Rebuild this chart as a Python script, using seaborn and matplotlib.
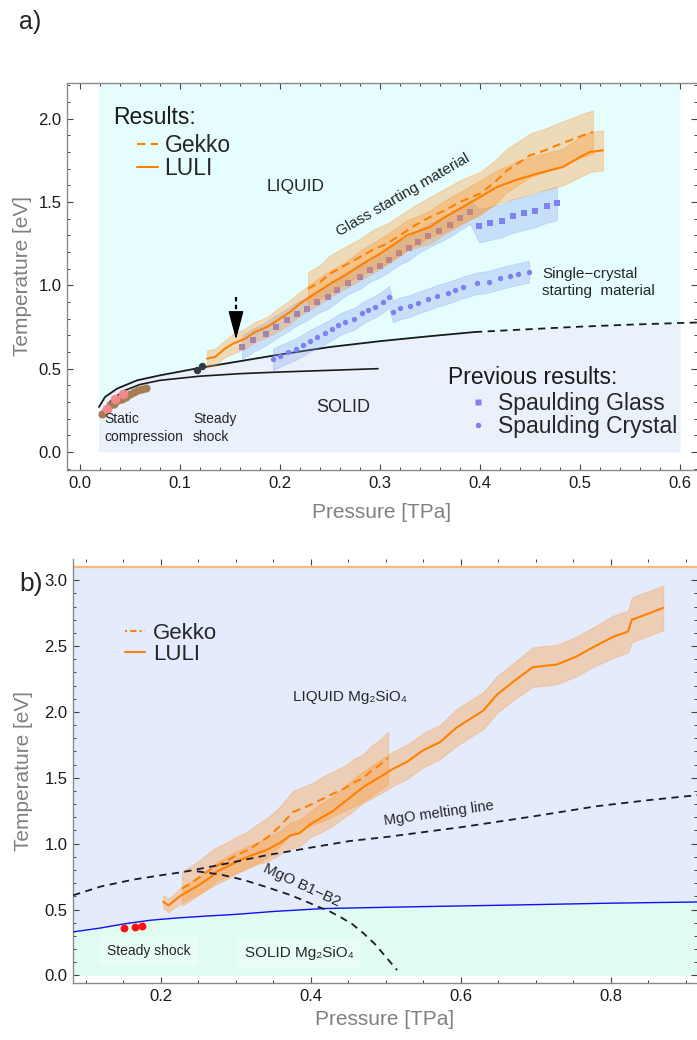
import matplotlib.pyplot as plt
import seaborn as sns
from matplotlib.lines import Line2D
from matplotlib.ticker import MultipleLocator, FormatStrFormatter


# %% data, panel a
liquid_a_p = [0.019, 0.6]

melt_p = [0.019, 0.025, 0.037, 0.057, 0.08, 0.12, 0.16, 0.2, 0.25, 0.3, 0.35, 0.395]
melt_t = [0.27, 0.33, 0.38, 0.43, 0.46, 0.505, 0.545, 0.585, 0.63, 0.665, 0.695, 0.72]
melt_ext_p = [0.395, 0.45, 0.5, 0.55, 0.6, 0.617]
melt_ext_t = [0.72, 0.737, 0.752, 0.764, 0.774, 0.777]

solidus_p = [0.028, 0.035, 0.045, 0.06, 0.08, 0.12, 0.16, 0.2, 0.25, 0.298]
solidus_t = [0.29, 0.33, 0.37, 0.405, 0.43, 0.455, 0.47, 0.48, 0.49, 0.50]

static_brown_p = [0.022, 0.026, 0.030, 0.034, 0.038, 0.042, 0.046, 0.050, 0.054, 0.058, 0.062, 0.066]
static_brown_t = [0.23, 0.25, 0.28, 0.29, 0.31, 0.32, 0.33, 0.35, 0.36, 0.37, 0.38, 0.385]
static_pink_p = [0.027, 0.035, 0.043]
static_pink_t = [0.26, 0.32, 0.35]

steady_a_p = [0.117, 0.122]
steady_a_t = [0.492, 0.516]

luli_a_p = [0.127, 0.135, 0.145, 0.153, 0.165, 0.175, 0.187, 0.2, 0.21, 0.22,
            0.235, 0.253, 0.265, 0.283, 0.3, 0.315, 0.327, 0.35, 0.365, 0.383,
            0.4, 0.417, 0.435, 0.457, 0.47, 0.483, 0.5, 0.51, 0.523]
luli_a_t = [0.56, 0.57, 0.62, 0.65, 0.68, 0.72, 0.75, 0.80, 0.84, 0.89,
            0.95, 1.02, 1.06, 1.13, 1.19, 1.25, 1.30, 1.35, 1.41, 1.47,
            1.53, 1.59, 1.63, 1.67, 1.69, 1.71, 1.77, 1.80, 1.81]
luli_a_err = [0.05, 0.05, 0.05, 0.06, 0.06, 0.06, 0.06, 0.07, 0.07, 0.07,
              0.08, 0.08, 0.08, 0.09, 0.09, 0.09, 0.09, 0.10, 0.10, 0.10,
              0.10, 0.10, 0.11, 0.11, 0.11, 0.11, 0.12, 0.12, 0.12]

gekko_a_p = [0.228, 0.24, 0.25, 0.265, 0.28, 0.295, 0.307, 0.32, 0.335, 0.35, 0.365,
             0.38, 0.4, 0.415, 0.427, 0.44, 0.45, 0.465, 0.477, 0.49, 0.503, 0.513]
gekko_a_t = [0.98, 1.02, 1.07, 1.12, 1.17, 1.22, 1.25, 1.30, 1.36, 1.41, 1.45,
             1.50, 1.55, 1.62, 1.69, 1.74, 1.78, 1.81, 1.84, 1.87, 1.90, 1.92]
gekko_a_err = [0.10, 0.10, 0.11, 0.11, 0.11, 0.12, 0.12, 0.12, 0.12, 0.12, 0.13,
               0.13, 0.13, 0.13, 0.13, 0.13, 0.13, 0.13, 0.13, 0.13, 0.13, 0.13]

glass_p = [0.162, 0.173, 0.186, 0.196, 0.207, 0.217, 0.227, 0.237, 0.248, 0.257,
           0.268, 0.280, 0.290, 0.300, 0.309, 0.319, 0.329, 0.338, 0.348, 0.359,
           0.370, 0.380, 0.390, 0.399, 0.410, 0.422, 0.433, 0.444, 0.455, 0.467, 0.477]
glass_t = [0.63, 0.67, 0.71, 0.75, 0.79, 0.83, 0.86, 0.90, 0.93, 0.97,
           1.016, 1.048, 1.092, 1.118, 1.152, 1.192, 1.222, 1.262, 1.296, 1.328,
           1.362, 1.402, 1.438, 1.358, 1.372, 1.388, 1.416, 1.432, 1.448, 1.476, 1.492]
glass_err = [0.07] * 23 + [0.10] * 8

crystal_p = [0.193, 0.2, 0.208, 0.216, 0.223, 0.23, 0.237, 0.245, 0.252, 0.258,
             0.265, 0.274, 0.282, 0.288, 0.295, 0.303, 0.309, 0.313, 0.32, 0.33,
             0.338, 0.348, 0.357, 0.368, 0.375, 0.383, 0.397, 0.409, 0.42, 0.43,
             0.438, 0.449]
crystal_t = [0.556, 0.576, 0.598, 0.618, 0.642, 0.668, 0.688, 0.712, 0.736, 0.76,
             0.78, 0.798, 0.832, 0.852, 0.872, 0.902, 0.932, 0.842, 0.862, 0.876,
             0.896, 0.916, 0.936, 0.956, 0.97, 0.988, 1.012, 1.022, 1.042, 1.056,
             1.068, 1.082]
crystal_err = [0.065] * 32

# %% data, panel b
blue_p = [0.083, 0.12, 0.15, 0.185, 0.22, 0.26, 0.3, 0.35, 0.416, 0.52, 0.65, 0.8, 0.915]
blue_t = [0.33, 0.36, 0.39, 0.418, 0.435, 0.45, 0.463, 0.485, 0.507, 0.519, 0.532, 0.548, 0.557]

mgo_melt_p = [0.083, 0.12, 0.163, 0.2, 0.23, 0.28, 0.341, 0.4, 0.452, 0.5, 0.603, 0.7, 0.781, 0.85, 0.915]
mgo_melt_t = [0.608, 0.675, 0.727, 0.76, 0.785, 0.84, 0.912, 0.97, 1.02, 1.05, 1.127, 1.21, 1.284, 1.33, 1.368]

b1b2_p = [0.248, 0.28, 0.31, 0.341, 0.37, 0.39, 0.408, 0.425, 0.44, 0.455, 0.47, 0.485, 0.5, 0.515]
b1b2_t = [0.79, 0.765, 0.725, 0.67, 0.615, 0.57, 0.525, 0.486, 0.44, 0.39, 0.32, 0.24, 0.14, 0.04]

steady_b_p = [0.151, 0.165, 0.175]
steady_b_t = [0.36, 0.367, 0.375]

luli_b_p = [0.203, 0.21, 0.225, 0.24, 0.252, 0.265, 0.275, 0.29, 0.3, 0.32,
            0.34, 0.36, 0.372, 0.385, 0.4, 0.415, 0.43, 0.45, 0.47, 0.496,
            0.51, 0.528, 0.55, 0.572, 0.594, 0.616, 0.63, 0.648, 0.67, 0.696,
            0.712, 0.728, 0.754, 0.776, 0.803, 0.823, 0.828, 0.852, 0.87]
luli_b_t = [0.56, 0.53, 0.60, 0.65, 0.69, 0.74, 0.79, 0.83, 0.86, 0.91,
            0.95, 1.01, 1.06, 1.08, 1.15, 1.20, 1.25, 1.34, 1.43, 1.52,
            1.57, 1.62, 1.71, 1.77, 1.88, 1.96, 2.01, 2.13, 2.23, 2.34,
            2.35, 2.36, 2.42, 2.49, 2.57, 2.61, 2.70, 2.75, 2.79]
luli_b_err = [0.05, 0.05, 0.06, 0.06, 0.07, 0.07, 0.07, 0.08, 0.08, 0.08,
              0.09, 0.09, 0.10, 0.10, 0.10, 0.11, 0.11, 0.12, 0.12, 0.13,
              0.13, 0.13, 0.13, 0.13, 0.14, 0.14, 0.14, 0.14, 0.14, 0.15,
              0.15, 0.15, 0.15, 0.15, 0.16, 0.16, 0.17, 0.17, 0.17]

gekko_b_p = [0.228, 0.24, 0.255, 0.27, 0.288, 0.3, 0.315, 0.332, 0.345, 0.36, 0.376,
             0.39, 0.405, 0.416, 0.43, 0.445, 0.456, 0.47, 0.48, 0.49, 0.503]
gekko_b_t = [0.66, 0.70, 0.76, 0.82, 0.87, 0.91, 0.95, 1.01, 1.06, 1.14, 1.24,
             1.27, 1.31, 1.34, 1.38, 1.42, 1.46, 1.50, 1.55, 1.59, 1.65]
gekko_b_err = [0.13, 0.13, 0.13, 0.14, 0.14, 0.14, 0.14, 0.15, 0.15, 0.15, 0.16,
               0.16, 0.16, 0.17, 0.17, 0.17, 0.18, 0.18, 0.19, 0.19, 0.20]

# %% style
sns.set_theme(style="ticks")
plt.rcParams["font.family"] = ["Liberation Sans", "DejaVu Sans"]

orange = "#FF8000"
band_face = "#FF8C1A"
band_edge = (1.0, 0.6, 0.2, 0.55)
spaul = "#8080F0"
gray = "#808080"
dash_long = (0, (4, 2.5))


def band(ax, p, t, err, z):
    lo = [a - e for a, e in zip(t, err)]
    hi = [a + e for a, e in zip(t, err)]
    ax.fill_between(p, lo, hi, facecolor=band_face, alpha=0.3,
                    edgecolor=band_edge, linewidth=0.8, zorder=z)


def style_axes(ax, xmaj, xmin, ymaj, ymin):
    ax.xaxis.set_major_locator(MultipleLocator(xmaj))
    ax.xaxis.set_minor_locator(MultipleLocator(xmin))
    ax.yaxis.set_major_locator(MultipleLocator(ymaj))
    ax.yaxis.set_minor_locator(MultipleLocator(ymin))
    ax.xaxis.set_major_formatter(FormatStrFormatter("%.1f"))
    ax.yaxis.set_major_formatter(FormatStrFormatter("%.1f"))
    ax.tick_params(which="both", direction="in", top=True, right=True,
                   color="#444444", labelsize=12, labelcolor="#1a1a1a", pad=4)
    ax.tick_params(which="major", length=4.5, width=0.8)
    ax.tick_params(which="minor", length=2.5, width=0.7)
    for s in ["left", "bottom", "top"]:
        ax.spines[s].set_color("#8a8a8a")
        ax.spines[s].set_linewidth(1.0)
    ax.spines["right"].set_visible(False)
    ax.set_facecolor("white")


W, H = 697, 1040
fig = plt.figure(figsize=(6.97, 10.4), dpi=100)
ax_a = fig.add_axes([67 / W, 1 - 470 / H, 630 / W, 387 / H])
ax_b = fig.add_axes([73 / W, 1 - 983 / H, 624 / W, 424 / H])

# %% panel a
ax_a.fill_between(liquid_a_p, 0, 2.3, color="#E6FDFE", lw=0, zorder=0)
fill_p = melt_p + melt_ext_p[1:5]
fill_t = melt_t + melt_ext_t[1:5]
ax_a.fill_between(fill_p, 0, fill_t, color="#EBF1FA", lw=0, zorder=0.5)

sns.lineplot(x=melt_p, y=melt_t, color="#1a1a1a", lw=1.3, ax=ax_a, errorbar=None, zorder=2)
sns.lineplot(x=melt_ext_p, y=melt_ext_t, color="#1a1a1a", lw=1.3, linestyle=(0, (4, 3)),
             ax=ax_a, errorbar=None, zorder=2)
sns.lineplot(x=solidus_p, y=solidus_t, color="#1a1a1a", lw=1.2, ax=ax_a, errorbar=None, zorder=2)

sns.scatterplot(x=static_brown_p, y=static_brown_t, color="#A67C52", s=34, linewidth=0,
                ax=ax_a, zorder=3)
sns.scatterplot(x=static_pink_p, y=static_pink_t, color="#F08A8A", s=48, linewidth=0,
                ax=ax_a, zorder=3.1)
sns.scatterplot(x=steady_a_p, y=steady_a_t, color="#2E3B3B", s=28, linewidth=0,
                ax=ax_a, zorder=3)

# Spaulding previous results
for p, t, err in [(glass_p, glass_t, glass_err), (crystal_p, crystal_t, crystal_err)]:
    ax_a.fill_between(p, [a - e for a, e in zip(t, err)], [a + e for a, e in zip(t, err)],
                      facecolor="#7F9FF0", alpha=0.3, edgecolor=(0.5, 0.6, 0.95, 0.3),
                      linewidth=0.6, zorder=3)
sns.scatterplot(x=glass_p, y=glass_t, marker="s", s=17, color=spaul, linewidth=0,
                ax=ax_a, zorder=4)
sns.scatterplot(x=crystal_p, y=crystal_t, marker="o", s=15, color=spaul, linewidth=0,
                ax=ax_a, zorder=4)

# present results
band(ax_a, gekko_a_p, gekko_a_t, gekko_a_err, 5)
band(ax_a, luli_a_p, luli_a_t, luli_a_err, 5)
sns.lineplot(x=gekko_a_p, y=gekko_a_t, color=orange, lw=1.5, linestyle=dash_long,
             ax=ax_a, errorbar=None, zorder=6)
sns.lineplot(x=luli_a_p, y=luli_a_t, color=orange, lw=1.5, ax=ax_a, errorbar=None, zorder=6)

# arrow
ax_a.plot([0.156, 0.156], [0.93, 0.79], color="black", lw=1.6, ls=(0, (2, 1.5)), zorder=7)
ax_a.annotate("", xy=(0.156, 0.675), xytext=(0.156, 0.81),
              arrowprops=dict(arrowstyle="-|>,head_length=0.9,head_width=0.24",
                              mutation_scale=20, color="black", lw=1.0,
                              shrinkA=0, shrinkB=0), zorder=7)

ax_a.set_xlim(-0.013, 0.617)
ax_a.set_ylim(-0.108, 2.214)
style_axes(ax_a, 0.1, 0.02, 0.5, 0.1)

ax_a.text(0.073, 0.9096, "Results:", transform=ax_a.transAxes, fontsize=16.5,
          ha="left", va="center", color="#1a1a1a")
leg_a = ax_a.legend(
    handles=[Line2D([], [], color=orange, lw=1.5, ls=dash_long),
             Line2D([], [], color=orange, lw=1.5)],
    labels=["Gekko", "LULI"], loc="upper left", bbox_to_anchor=(0.111, 0.868),
    frameon=False, fontsize=16.5, handlelength=0.9, handletextpad=0.3,
    labelspacing=0.0, borderpad=0, borderaxespad=0)
ax_a.add_artist(leg_a)

ax_a.text(0.605, 0.238, "Previous results:", transform=ax_a.transAxes, fontsize=16.5,
          ha="left", va="center", color="#1a1a1a")
ax_a.legend(
    handles=[Line2D([], [], ls="none", marker="s", ms=4.5, color=spaul, mec="none"),
             Line2D([], [], ls="none", marker="o", ms=4.0, color=spaul, mec="none")],
    labels=["Spaulding Glass", "Spaulding Crystal"], loc="upper left",
    bbox_to_anchor=(0.638, 0.2016), frameon=False, fontsize=16.5, handlelength=0.8,
    handletextpad=0.45, labelspacing=0.0, borderpad=0, borderaxespad=0)

ax_a.text(0.187, 1.59, "LIQUID", fontsize=12.5, ha="left", va="center", zorder=8)
ax_a.text(0.236, 0.27, "SOLID", fontsize=13, ha="left", va="center", zorder=8)
ax_a.text(0.323, 1.54, "Glass starting material", fontsize=11, rotation=30,
          rotation_mode="anchor", ha="center", va="center", zorder=8)
ax_a.text(0.462, 1.017, "Single\u2212crystal\nstarting  material", fontsize=11,
          ha="left", va="center", linespacing=1.35, zorder=8)
ax_a.text(0.024, 0.144, "Static\ncompression", fontsize=10, ha="left", va="center",
          linespacing=1.45, zorder=8)
ax_a.text(0.113, 0.144, "Steady\nshock", fontsize=10, ha="left", va="center",
          linespacing=1.45, zorder=8)

ax_a.set_xlabel("Pressure [TPa]", fontsize=15, color=gray)
ax_a.set_ylabel("Temperature [eV]", fontsize=15, color=gray)
ax_a.xaxis.set_label_coords(0.5, -0.085)
ax_a.yaxis.set_label_coords(-0.056, 0.5)

# %% panel b
ax_b.fill_between([0.0, 1.0], 0, 3.1, color="#E4EBFC", lw=0, zorder=0)
ax_b.fill_between(blue_p, 0, blue_t, color="#E0FCF0", lw=0, zorder=0.5)
ax_b.axhline(3.1, color="#F3BE73", lw=1.6, zorder=1)

band(ax_b, gekko_b_p, gekko_b_t, gekko_b_err, 3)
band(ax_b, luli_b_p, luli_b_t, luli_b_err, 3)
sns.lineplot(x=gekko_b_p, y=gekko_b_t, color=orange, lw=1.5, linestyle=dash_long,
             ax=ax_b, errorbar=None, zorder=4)
sns.lineplot(x=luli_b_p, y=luli_b_t, color=orange, lw=1.5, ax=ax_b, errorbar=None, zorder=4)

sns.lineplot(x=blue_p, y=blue_t, color="#1010F0", lw=1.0, ax=ax_b, errorbar=None, zorder=5)
sns.lineplot(x=mgo_melt_p, y=mgo_melt_t, color="#1a1a2a", lw=1.3, linestyle=(0, (4, 3)),
             ax=ax_b, errorbar=None, zorder=5)
sns.lineplot(x=b1b2_p, y=b1b2_t, color="#1a1a2a", lw=1.3, linestyle=(0, (4, 3)),
             ax=ax_b, errorbar=None, zorder=5)
sns.scatterplot(x=steady_b_p, y=steady_b_t, color="#FF1010", s=32, linewidth=0,
                ax=ax_b, zorder=6)

ax_b.set_xlim(0.0827, 0.915)
ax_b.set_ylim(-0.058, 3.161)
style_axes(ax_b, 0.2, 0.05, 0.5, 0.1)
ax_b.spines["top"].set_visible(False)

ax_b.legend(
    handles=[Line2D([], [], color=orange, lw=1.5, ls=(0, (1, 1.5, 3, 1.5))),
             Line2D([], [], color=orange, lw=1.5)],
    labels=["Gekko", "LULI"], loc="upper left", bbox_to_anchor=(0.0833, 0.85),
    frameon=False, fontsize=16, handlelength=0.9, handletextpad=0.35,
    labelspacing=0.0, borderpad=0, borderaxespad=0)

ax_b.text(0.376, 2.11, "LIQUID Mg\u2082SiO\u2084", fontsize=11, ha="left", va="center", zorder=8)
ax_b.text(0.571, 1.23, "MgO melting line", fontsize=10.5, rotation=8, rotation_mode="anchor",
          ha="center", va="center", zorder=8)
ax_b.text(0.388, 0.684, "MgO B1\u2212B2", fontsize=11, rotation=-25, rotation_mode="anchor",
          ha="center", va="center", zorder=8)
ax_b.text(0.184, 0.185, "Steady shock", fontsize=10, ha="center", va="center", zorder=8,
          bbox=dict(boxstyle="square,pad=0.5", facecolor="#E9FDF7", edgecolor="none"))
ax_b.text(0.312, 0.167, "SOLID Mg\u2082SiO\u2084", fontsize=11, ha="left", va="center", zorder=8,
          bbox=dict(boxstyle="square,pad=0.5", facecolor="#E9FDF7", edgecolor="none"))

ax_b.set_xlabel("Pressure [TPa]", fontsize=15, color=gray)
ax_b.set_ylabel("Temperature [eV]", fontsize=15, color=gray)
ax_b.xaxis.set_label_coords(0.5, -0.064)
ax_b.yaxis.set_label_coords(-0.064, 0.5)

fig.text(30 / W, 1 - 22 / H, "a)", fontsize=18, ha="center", va="center")
fig.text(31 / W, 1 - 584 / H, "b)", fontsize=19, ha="center", va="center")

plt.savefig("out.png", dpi=100)
